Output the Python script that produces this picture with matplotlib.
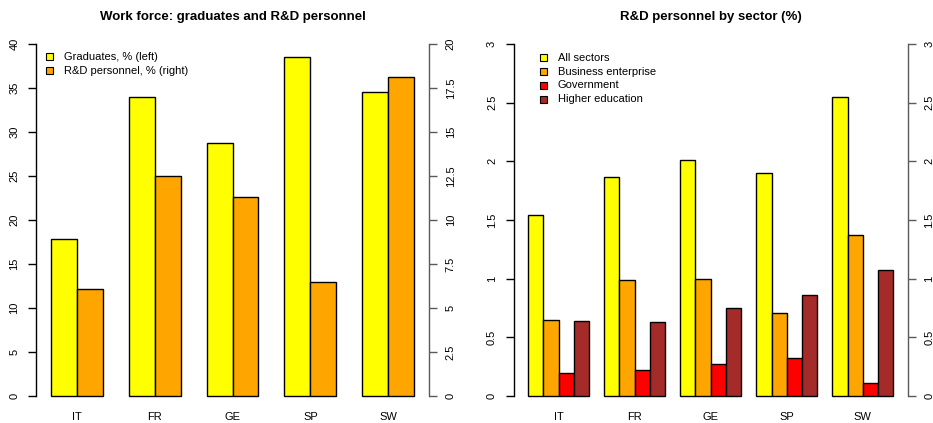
import matplotlib
matplotlib.use("Agg")
import matplotlib.pyplot as plt
import numpy as np

countries = ["IT", "FR", "GE", "SP", "SW"]

# left panel
graduates = [17.8, 34.0, 28.7, 38.5, 34.6]        # % (left axis)
rd_personnel = [6.1, 12.5, 11.3, 6.5, 18.1]       # % (right axis)

# right panel
sectors = ["All sectors", "Business enterprise", "Government", "Higher education"]
all_sectors = [1.54, 1.87, 2.01, 1.90, 2.55]
business = [0.65, 0.99, 1.00, 0.71, 1.37]
government = [0.20, 0.22, 0.27, 0.32, 0.11]
higher_edu = [0.64, 0.63, 0.75, 0.86, 1.07]

plt.rcParams["font.family"] = ["Liberation Sans", "DejaVu Sans"]
TICK_FS = 8
W, H = 933, 423

fig = plt.figure(figsize=(W / 100, H / 100), dpi=100)


def style_axis(ax, ymax, ticks, labels, side, color):
    # R-style axis: only a line spanning the tick range, labels parallel to axis
    for s in ax.spines:
        ax.spines[s].set_visible(False)
    ax.spines[side].set_visible(True)
    ax.spines[side].set_bounds(0, ymax)
    ax.spines[side].set_color(color)
    ax.spines[side].set_linewidth(1.0)
    ax.set_yticks(ticks)
    ax.set_yticklabels(labels, rotation=90, va="center", fontsize=TICK_FS)
    ax.tick_params(axis="y", which="both", length=6, width=1.0, color=color, pad=6,
                   left=(side == "left"), right=(side == "right"),
                   labelleft=(side == "left"), labelright=(side == "right"))


def draw_bars(ax, groups, colors, first, nb):
    # R barplot(beside=TRUE): one space unit before each group of nb bars
    step = nb + 1
    for g in range(len(countries)):
        left0 = 1 + g * step + first
        for k, (vals, col) in enumerate(zip(groups, colors)):
            ax.bar(left0 + k, vals[g], width=1, align="edge", color=col,
                   edgecolor="black", linewidth=1.0, zorder=2)


def setup(ax, nb, ymax, title):
    step = nb + 1
    lo, hi = 1, len(countries) * step
    pad = 0.04 * (hi - lo)
    ax.set_xlim(lo - pad, hi + pad)
    ax.set_ylim(-0.04 * ymax, ymax * 1.04)
    centers = [1 + g * step + nb / 2 for g in range(len(countries))]
    ax.set_xticks(centers)
    ax.set_xticklabels(countries, fontsize=TICK_FS)
    ax.tick_params(axis="x", length=0, pad=1.5)
    ax.set_title(title, fontsize=9.5, fontweight="bold", pad=7)


ax_bottom = (H - 410.1) / H
ax_h = (410.1 - 29.9) / H
COLS = ["#FFFF00", "#FFA500", "#FF0000", "#A52A2A"]

# ---- left panel
axL = fig.add_axes([36 / W, ax_bottom, 393 / W, ax_h])
axL2 = axL.twinx()
draw_bars(axL, [graduates], ["#FFFF00"], 0, 2)
draw_bars(axL2, [rd_personnel], ["#FFA500"], 1, 2)
setup(axL, 2, 40, "Work force: graduates and R&D personnel")
axL2.set_xlim(axL.get_xlim())
axL2.set_ylim(-0.8, 20.8)
t = np.arange(0, 41, 5)
style_axis(axL, 40, t, [f"{v:g}" for v in t], "left", "black")
t2 = np.arange(0, 20.1, 2.5)
style_axis(axL2, 20, t2, [f"{v:g}" for v in t2], "right", "#5a5a5a")

for i, (lab, col) in enumerate([("Graduates, % (left)", "#FFFF00"),
                                 ("R&D personnel, % (right)", "#FFA500")]):
    y = 57 + i * 14
    fig.patches.append(plt.Rectangle((45.5 / W, 1 - (y + 3.5) / H), 7 / W, 7 / H,
                                     transform=fig.transFigure, facecolor=col,
                                     edgecolor="black", linewidth=0.8))
    fig.text(64 / W, 1 - y / H, lab, fontsize=TICK_FS, va="center", ha="left")

# ---- right panel
axR = fig.add_axes([513.7 / W, ax_bottom, 394 / W, ax_h])
draw_bars(axR, [all_sectors, business, government, higher_edu], COLS, 0, 4)
setup(axR, 4, 3, "R&D personnel by sector (%)")
t3 = np.arange(0, 3.01, 0.5)
style_axis(axR, 3, t3, [f"{v:g}" for v in t3], "left", "black")

axR2 = axR.twinx()
axR2.set_ylim(axR.get_ylim())
style_axis(axR2, 3, t3, [f"{v:g}" for v in t3], "right", "#5a5a5a")

for i, (lab, col) in enumerate(zip(sectors, COLS)):
    y = 58 + i * 13.7
    fig.patches.append(plt.Rectangle((539.5 / W, 1 - (y + 3.5) / H), 7 / W, 7 / H,
                                     transform=fig.transFigure, facecolor=col,
                                     edgecolor="black", linewidth=0.8))
    fig.text(557.5 / W, 1 - y / H, lab, fontsize=TICK_FS, va="center", ha="left")

fig.savefig("out.png", dpi=100)
